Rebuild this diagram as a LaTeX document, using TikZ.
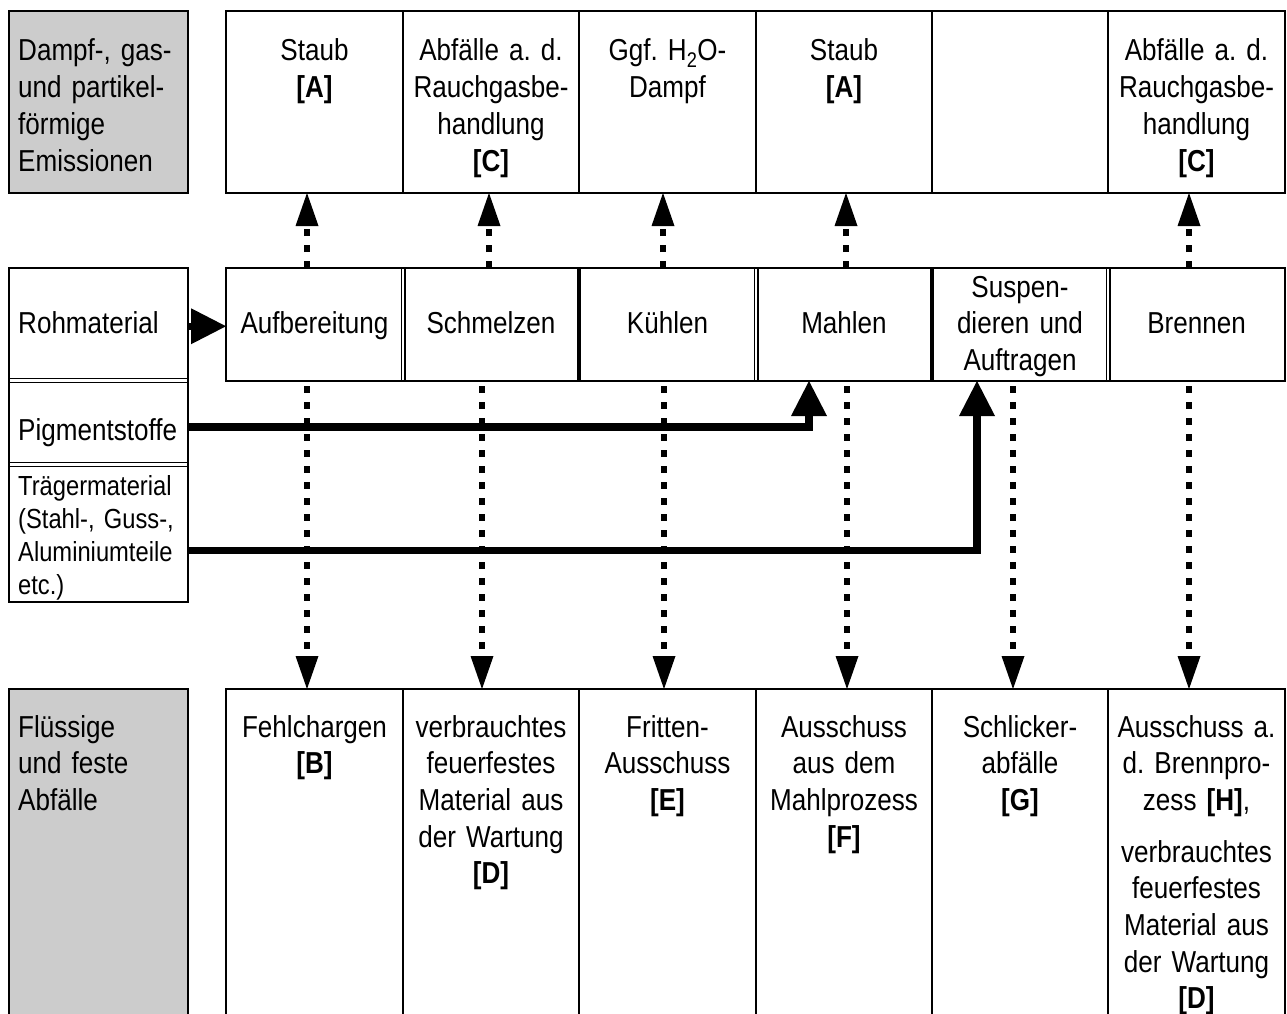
\documentclass[tikz,border=0pt]{standalone}
\usepackage{fontspec}
\setmainfont{Liberation Sans}[FakeStretch=0.86,WordSpace=0.86]
\usetikzlibrary{arrows.meta}
\definecolor{cellgray}{RGB}{204,204,204}
\newcommand\mainfs{\fontsize{30.3pt}{36.7pt}\selectfont\frenchspacing}
\newcommand\smallfs{\fontsize{27.6pt}{33pt}\selectfont\frenchspacing}
\begin{document}
\begin{tikzpicture}[x=1pt,y=-1pt,
  cellbox/.style={draw, line width=2pt, inner sep=0pt, outer sep=0pt, anchor=north west},
  blank/.style={draw=none, inner sep=0pt, outer sep=0pt, anchor=north west},
  frame/.style={line width=2pt},
  dbl/.style={double, double distance=2.4pt, line width=1.3pt},
  thicksep/.style={line width=3.3pt},
  ctext/.style={text width=176pt, align=center, inner sep=0pt, anchor=base, font=\mainfs},
  ltext/.style={text width=172pt, align=left, inner sep=0pt, anchor=base west, font=\mainfs},
  stext/.style={text width=172pt, align=left, inner sep=0pt, anchor=base west, font=\smallfs},
  dotarr/.style={line width=6.5pt, dash pattern=on 7pt off 9pt, -{Triangle[length=33pt,width=23pt,line width=0pt]}},
  solarr/.style={line width=7.3pt, line join=miter, -{Triangle[length=35pt,width=36pt,line width=0pt]}}
]
\useasboundingbox (0,0) rectangle (1287,1014);

% ---------- top row ----------
\node[cellbox, fill=cellgray, minimum width=179pt, minimum height=182pt] (emi) at (9,11) {};
\node[cellbox, minimum width=177pt, minimum height=182pt] (t1) at (226,11) {};
\node[cellbox, minimum width=176pt, minimum height=182pt] (t2) at (403,11) {};
\node[cellbox, minimum width=177pt, minimum height=182pt] (t3) at (579,11) {};
\node[cellbox, minimum width=176pt, minimum height=182pt] (t4) at (756,11) {};
\node[cellbox, minimum width=176pt, minimum height=182pt] (t5) at (932,11) {};
\node[cellbox, minimum width=177pt, minimum height=182pt] (t6) at (1108,11) {};

% ---------- middle row ----------
\node[cellbox, minimum width=179pt, minimum height=112.5pt] (roh) at (9,268) {};
\node[cellbox, minimum width=179pt, minimum height=84pt] (pig) at (9,380.5) {};
\node[cellbox, minimum width=179pt, minimum height=137.5pt] (trag) at (9,464.5) {};
\draw[dbl] (roh.south west) -- (roh.south east);
\draw[dbl] (pig.south west) -- (pig.south east);
\draw[frame] (roh.north west) rectangle (trag.south east);

\node[cellbox, minimum width=177pt, minimum height=113pt] (m1) at (226,268) {};
\node[cellbox, minimum width=176pt, minimum height=113pt] (m2) at (403,268) {};
\node[cellbox, minimum width=177pt, minimum height=113pt] (m3) at (579,268) {};
\node[cellbox, minimum width=176pt, minimum height=113pt] (m4) at (756,268) {};
\node[cellbox, minimum width=176pt, minimum height=113pt] (m5) at (932,268) {};
\node[cellbox, minimum width=177pt, minimum height=113pt] (m6) at (1108,268) {};
\draw[dbl] (m1.north east) -- (m1.south east);
\draw[thicksep] (m2.north east) -- (m2.south east);
\draw[dbl] (m3.north east) -- (m3.south east);
\draw[thicksep] (m4.north east) -- (m4.south east);
\draw[dbl] (m5.north east) -- (m5.south east);
\draw[frame] (m1.north west) rectangle (m6.south east);

% ---------- bottom row ----------
\node[blank, fill=cellgray, minimum width=179pt, minimum height=325pt] (abf) at (9,689) {};
\node[blank, minimum width=177pt, minimum height=325pt] (b1) at (226,689) {};
\node[blank, minimum width=176pt, minimum height=325pt] (b2) at (403,689) {};
\node[blank, minimum width=177pt, minimum height=325pt] (b3) at (579,689) {};
\node[blank, minimum width=176pt, minimum height=325pt] (b4) at (756,689) {};
\node[blank, minimum width=176pt, minimum height=325pt] (b5) at (932,689) {};
\node[blank, minimum width=177pt, minimum height=325pt] (b6) at (1108,689) {};
\draw[frame] (abf.south west) |- (abf.north east) -- (abf.south east);
\draw[frame] (b1.south west) |- (b6.north east) -- (b6.south east);
\draw[frame] (b1.north east) -- (b1.south east);
\draw[frame] (b2.north east) -- (b2.south east);
\draw[frame] (b3.north east) -- (b3.south east);
\draw[frame] (b4.north east) -- (b4.south east);
\draw[frame] (b5.north east) -- (b5.south east);

% ---------- arrow columns ----------
\coordinate (u1) at (307,0);
\coordinate (u2) at (489,0);
\coordinate (u3) at (663,0);
\coordinate (u4) at (846,0);
\coordinate (u6) at (1189,0);
\coordinate (d2) at (482,0);
\coordinate (d3) at (664,0);
\coordinate (d4) at (847,0);
\coordinate (d5) at (1013,0);
\coordinate (pp) at (809,0);
\coordinate (tp) at (977,0);

% solid feed arrows
\draw[solarr] ([yshift=-2pt]roh.east) -- ([yshift=-2pt]roh.east -| m1.west);
\draw[solarr] ([yshift=-4.5pt]pig.east) -| (m4.south -| pp);
\draw[solarr] ([yshift=-17pt]trag.east) -| (m5.south -| tp);

% dotted arrows up
\draw[dotarr] (m1.north -| u1) -- (t1.south -| u1);
\draw[dotarr] (m2.north -| u2) -- (t2.south -| u2);
\draw[dotarr] (m3.north -| u3) -- (t3.south -| u3);
\draw[dotarr] (m4.north -| u4) -- (t4.south -| u4);
\draw[dotarr] (m6.north -| u6) -- (t6.south -| u6);

% dotted arrows down
\draw[dotarr, dash phase=-5pt] (m1.south -| u1) -- (b1.north -| u1);
\draw[dotarr, dash phase=-5pt] (m2.south -| d2) -- (b2.north -| d2);
\draw[dotarr, dash phase=-5pt] (m3.south -| d3) -- (b3.north -| d3);
\draw[dotarr, dash phase=-5pt] (m4.south -| d4) -- (b4.north -| d4);
\draw[dotarr, dash phase=-5pt] (m5.south -| d5) -- (b5.north -| d5);
\draw[dotarr, dash phase=-5pt] (m6.south -| u6) -- (b6.north -| u6);

% ---------- texts ----------
\node[ltext] (emitx) at (18,61) {Dampf-, gas-\\und partikel-\\förmige\\Emissionen};
\node[ctext] (t1x) at (314.5,61) {Staub\\\textbf{[A]}};
\node[ctext] (t2x) at (491,61) {Abfälle a. d.\\Rauchgasbe-\\handlung\\\textbf{[C]}};
\node[ctext] (t3x) at (667.5,61) {Ggf. H\textsubscript{2}O-\\Dampf};
\node[ctext] (t4x) at (844,61) {Staub\\\textbf{[A]}};
\node[ctext] (t6x) at (1196.5,61) {Abfälle a. d.\\Rauchgasbe-\\handlung\\\textbf{[C]}};

\node[ltext] (rohx) at (18,333) {Rohmaterial};
\node[ltext] (pigx) at (18,440) {Pigmentstoffe};
\node[stext] (tragx) at (18,495) {Trägermaterial\\(Stahl-, Guss-,\\Aluminiumteile\\etc.)};

\node[ctext] (m1x) at (314.5,333) {Aufbereitung};
\node[ctext] (m2x) at (491,333) {Schmelzen};
\node[ctext] (m3x) at (667.5,333) {Kühlen};
\node[ctext] (m4x) at (844,333) {Mahlen};
\node[ctext] (m5x) at (1020,297) {Suspen-\\dieren und\\Auftragen};
\node[ctext] (m6x) at (1196.5,333) {Brennen};

\node[ltext] (abfx) at (18,737) {Flüssige\\und feste\\Abfälle};
\node[ctext] (b1x) at (314.5,737) {Fehlchargen\\\textbf{[B]}};
\node[ctext] (b2x) at (491,737) {verbrauchtes\\feuerfestes\\Material aus\\der Wartung\\\textbf{[D]}};
\node[ctext] (b3x) at (667.5,737) {Fritten-\\Ausschuss\\\textbf{[E]}};
\node[ctext] (b4x) at (844,737) {Ausschuss\\aus dem\\Mahlprozess\\\textbf{[F]}};
\node[ctext] (b5x) at (1020,737) {Schlicker-\\abfälle\\\textbf{[G]}};
\node[ctext] (b6x) at (1196.5,737) {Ausschuss a.\\d. Brennpro-\\zess \textbf{[H]},\\[15pt]verbrauchtes\\feuerfestes\\Material aus\\der Wartung\\\textbf{[D]}};
\end{tikzpicture}
\end{document}
